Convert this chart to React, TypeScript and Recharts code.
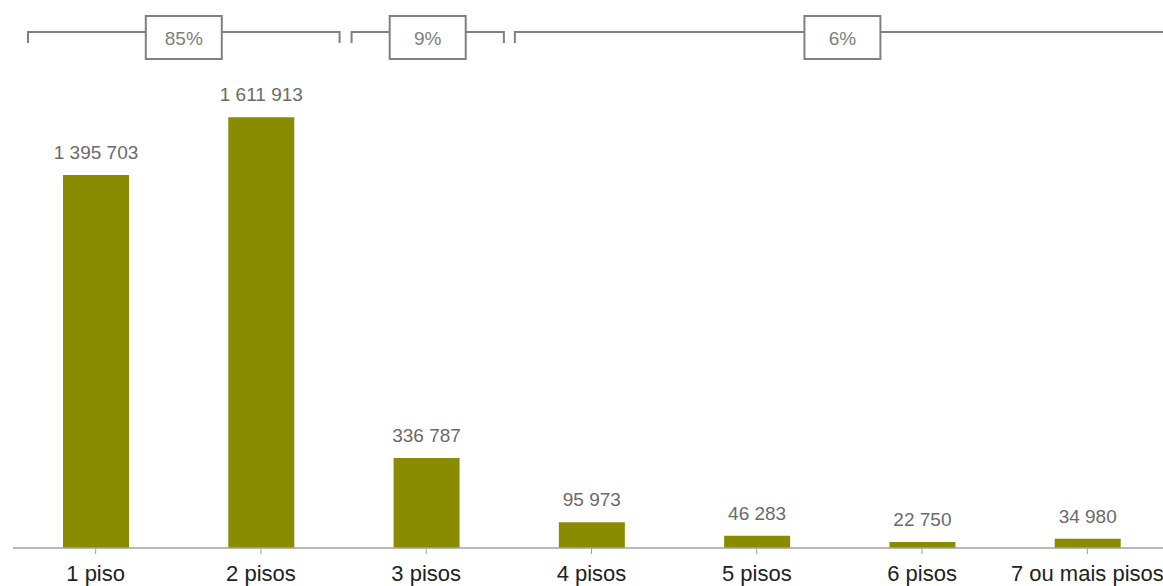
import React from 'react';
import { BarChart, Bar, XAxis, YAxis, LabelList, ReferenceArea } from 'recharts';

const categories = ['1 piso', '2 pisos', '3 pisos', '4 pisos', '5 pisos', '6 pisos', '7 ou mais pisos'];
const values = [1395703, 1611913, 336787, 95973, 46283, 22750, 34980];
const groupLabels = ['85%', '9%', '6%'];
const groupStarts = ['1 piso', '3 pisos', '4 pisos'];
const groupEnds = ['2 pisos', '3 pisos', '7 ou mais pisos'];

const data = categories.map((c, i) => ({ name: c, value: values[i] }));
const fmt = (v: any) => String(v).replace(/\B(?=(\d{3})+(?!\d))/g, ' ');

const BRACKET_INSETS = [[15, 4], [8, 5], [6, 0]];
const GREY = '#808080';

const makeBracket = (label: string, inset: number[]) => (props: any) => {
  const { x, width } = props;
  const x1 = x + inset[0];
  const x2 = x + width - inset[1];
  const lineY = 24;
  const tickY = 35;
  const boxTop = 8;
  const boxH = 43;
  const boxW = 76;
  const cx = (x1 + x2) / 2;
  return (
    <g>
      <path
        d={`M${x1},${tickY}V${lineY}H${cx - boxW / 2}M${cx + boxW / 2},${lineY}H${x2}V${tickY}`}
        stroke={GREY}
        strokeWidth={2}
        fill="none"
      />
      <rect x={cx - boxW / 2} y={boxTop} width={boxW} height={boxH} fill="#fff" stroke={GREY} strokeWidth={2} />
      <text x={cx} y={boxTop + boxH / 2 + 1} textAnchor="middle" dominantBaseline="central" fontSize={19} fill={GREY}>
        {label}
      </text>
    </g>
  );
};

export default function App() {
  return (
    <div
      style={{
        position: 'absolute',
        left: 8,
        top: 8,
        width: 1155,
        height: 578,
        overflow: 'hidden',
        fontFamily: '"Liberation Sans", Arial, sans-serif',
      }}
    >
      <BarChart width={1170} height={578} data={data} margin={{ top: 59, right: 8, left: 5, bottom: 0 }}>
        <YAxis hide domain={[0, 1800000]} />
        <XAxis
          dataKey="name"
          interval={0}
          height={38}
          tickSize={6}
          tickMargin={11}
          tick={{ fontSize: 22, fill: '#222' }}
          axisLine={{ stroke: '#a0a0a0', strokeWidth: 1.5 }}
          tickLine={{ stroke: '#a0a0a0' }}
        />
        {groupLabels.map((g, i) => (
          <ReferenceArea
            key={g}
            x1={groupStarts[i]}
            x2={groupEnds[i]}
            ifOverflow="visible"
            shape={makeBracket(g, BRACKET_INSETS[i])}
          />
        ))}
        <Bar dataKey="value" fill="#8a8c00" barSize={66} isAnimationActive={false}>
          <LabelList dataKey="value" position="top" offset={16} formatter={fmt} fill="#6b6b6b" fontSize={19} />
        </Bar>
      </BarChart>
    </div>
  );
}
